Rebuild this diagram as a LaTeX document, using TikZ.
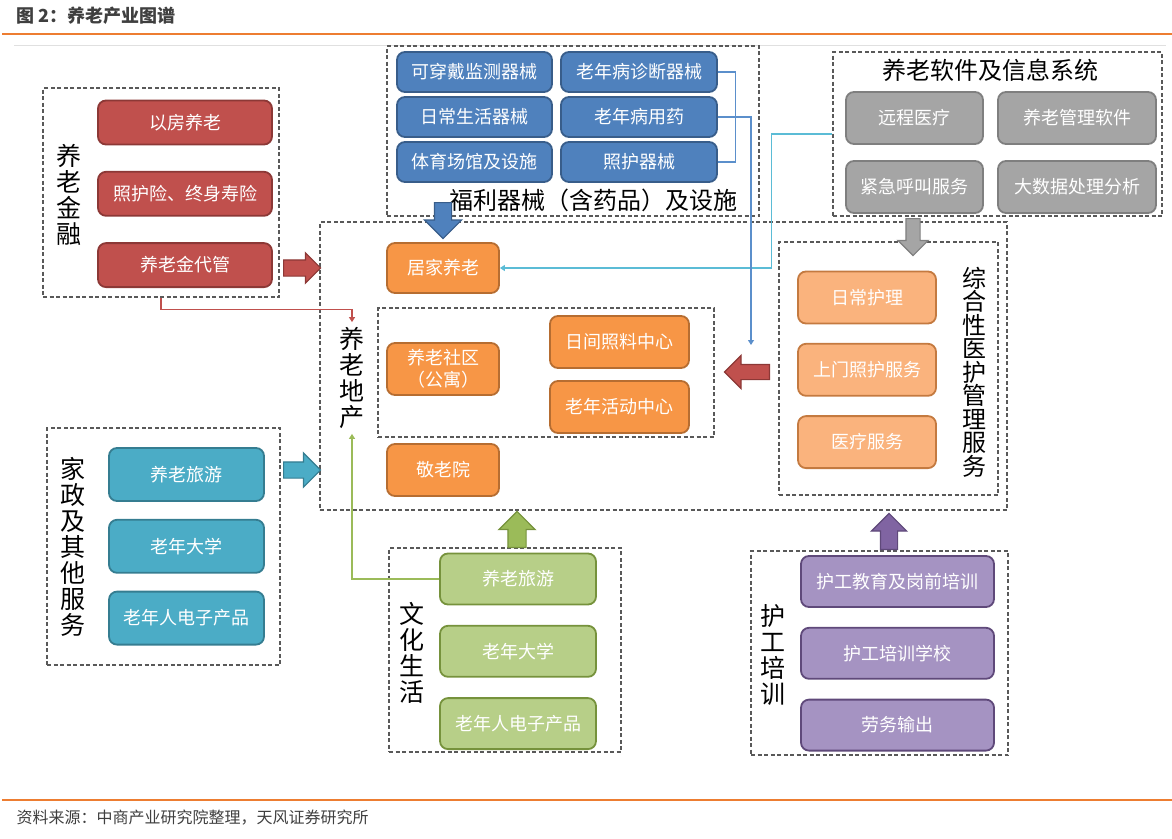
\documentclass[tikz,border=0pt]{standalone}
\usepackage{fontspec}
\setmainfont{Noto Sans CJK SC}
\usetikzlibrary{positioning,shapes.arrows,arrows.meta}

\definecolor{headorange}{HTML}{ED7D31}
\definecolor{titlegray}{HTML}{3F3F3F}
\definecolor{framegray}{HTML}{595959}
\definecolor{hongfill}{HTML}{C0504D}
\definecolor{hongline}{HTML}{8C3836}
\definecolor{lanfill}{HTML}{4F81BD}
\definecolor{lanline}{HTML}{385D8A}
\definecolor{chengfill}{HTML}{F79646}
\definecolor{chengline}{HTML}{B66D31}
\definecolor{qianchengfill}{HTML}{FAB37D}
\definecolor{qianchengline}{HTML}{C47A40}
\definecolor{huifill}{HTML}{A5A5A5}
\definecolor{huiline}{HTML}{7F7F7F}
\definecolor{qingfill}{HTML}{4BACC6}
\definecolor{qingline}{HTML}{357D91}
\definecolor{lvfill}{HTML}{B7CF88}
\definecolor{lvline}{HTML}{76923C}
\definecolor{lvarrow}{HTML}{9BBB59}
\definecolor{zifill}{HTML}{A593C2}
\definecolor{ziline}{HTML}{5F497A}
\definecolor{ziarrow}{HTML}{8064A2}
\definecolor{tianlan}{HTML}{5BBCD6}
\definecolor{xianlan}{HTML}{5B8FCB}

\tikzset{
  box/.style={rounded corners=8pt, line width=1.8pt, text=white, inner sep=0pt,
    font=\fontsize{18}{22}\selectfont, align=center},
  hongbox/.style={box, fill=hongfill, draw=hongline, minimum width=174pt, minimum height=44pt},
  lanbox/.style={box, fill=lanfill, draw=lanline, minimum width=155pt, minimum height=40pt},
  chengbox/.style={box, fill=chengfill, draw=chengline, minimum width=112pt, minimum height=51pt},
  qianbox/.style={box, fill=qianchengfill, draw=qianchengline, minimum width=138pt, minimum height=52pt},
  huibox/.style={box, fill=huifill, draw=huiline, minimum width=137pt, minimum height=52pt},
  qingbox/.style={box, fill=qingfill, draw=qingline, minimum width=155pt, minimum height=53pt},
  lvbox/.style={box, fill=lvfill, draw=lvline, minimum width=156pt, minimum height=51pt},
  zibox/.style={box, fill=zifill, draw=ziline, minimum width=193pt, minimum height=51pt},
  grpframe/.style={draw=framegray, line width=1.2pt, dash pattern=on 4pt off 2.5pt, inner sep=0pt},
  vlabel/.style={font=\fontsize{25}{26}\selectfont, align=center, inner xsep=0pt, inner ysep=5pt},
  biglabel/.style={font=\fontsize{24}{26}\selectfont, inner sep=0pt},
  fatarrow/.style={single arrow, anchor=tail, line width=1.2pt, inner xsep=0pt, inner ysep=7.5pt,
    single arrow head extend=8pt, minimum height=37pt},
  thinline/.style={line width=1.1pt, -{Triangle[length=5pt,width=6pt]}},
}

\begin{document}
\begin{tikzpicture}[x=1pt,y=-1pt]
\useasboundingbox (0,0) rectangle (1172,838);

% header and footer
\node[anchor=west, text=titlegray, font=\bfseries\fontsize{18}{20}\selectfont] (title) at (13,16) {图 2：养老产业图谱};
\draw[headorange, line width=2pt] (2,34) -- (1172,34);
\draw[black!12, line width=1pt] (14,45) -- (1166,45);
\draw[headorange, line width=2pt] (2,800) -- (1172,800);
\node[anchor=west, text=titlegray, font=\fontsize{16}{18}\selectfont] (source) at (13,818) {资料来源：中商产业研究院整理，天风证券研究所};

% group frames
\node[grpframe, minimum width=236pt, minimum height=209pt] (jinrong) at (161,192.5) {};
\node[grpframe, minimum width=372pt, minimum height=170pt] (qixie) at (573,131) {};
\node[grpframe, minimum width=329pt, minimum height=164pt] (ruanjian) at (997.5,134) {};
\node[grpframe, minimum width=687pt, minimum height=288pt] (dichan) at (663.5,366) {};
\node[grpframe, minimum width=336pt, minimum height=129pt] (shequ) at (546,372.5) {};
\node[grpframe, minimum width=219pt, minimum height=253pt] (yihu) at (888.5,368.5) {};
\node[grpframe, minimum width=233pt, minimum height=237pt] (jiazheng) at (163.5,546.5) {};
\node[grpframe, minimum width=232pt, minimum height=204pt] (wenhua) at (505,650) {};
\node[grpframe, minimum width=257pt, minimum height=204pt] (hugong) at (879.5,653) {};

% group labels
\node[vlabel] (jrlabel) at (69,195) {养\\老\\金\\融};
\node[biglabel] (qxlabel) at (593,200) {福利器械（含药品）及设施};
\node[biglabel] (rjlabel) at (990,70) {养老软件及信息系统};
\node[vlabel] (dclabel) at (352,378) {养\\老\\地\\产};
\node[vlabel, font=\fontsize{24}{23.5}\selectfont] (yhlabel) at (974,372) {综\\合\\性\\医\\护\\管\\理\\服\\务};
\node[vlabel] (jzlabel) at (73,547) {家\\政\\及\\其\\他\\服\\务};
\node[vlabel] (whlabel) at (412,653) {文\\化\\生\\活};
\node[vlabel] (hglabel) at (773,655) {护\\工\\培\\训};

% 养老金融
\node[hongbox] (j1) at (185,122.5) {以房养老};
\node[hongbox] (j2) [below=25.5pt of j1] {照护险、终身寿险};
\node[hongbox] (j3) [below=25.5pt of j2] {养老金代管};

% 福利器械
\node[lanbox] (q1) at (474.5,72) {可穿戴监测器械};
\node[lanbox] (q2) [below=3.2pt of q1] {日常生活器械};
\node[lanbox] (q3) [below=3.2pt of q2] {体育场馆及设施};
\node[lanbox, minimum width=156pt] (q4) at (639,72) {老年病诊断器械};
\node[lanbox, minimum width=156pt] (q5) [below=3.2pt of q4] {老年病用药};
\node[lanbox, minimum width=156pt] (q6) [below=3.2pt of q5] {照护器械};

% 养老软件
\node[huibox] (s1) at (914.5,118) {远程医疗};
\node[huibox, minimum width=158pt] (s2) [right=13.2pt of s1] {养老管理软件};
\node[huibox] (s3) [below=15.2pt of s1] {紧急呼叫服务};
\node[huibox, minimum width=158pt] (s4) [right=13.2pt of s3] {大数据处理分析};

% 养老地产
\node[chengbox, minimum height=50pt] (jujia) at (443,268) {居家养老};
\node[chengbox, minimum height=52pt] (sheq) at (443,369) {养老社区\\（公寓）};
\node[chengbox, minimum width=139pt, minimum height=52pt] (rijian) at (619.5,342) {日间照料中心};
\node[chengbox, minimum width=139pt, minimum height=52pt] (huodong) [below=11.2pt of rijian] {老年活动中心};
\node[chengbox, minimum height=52pt] (jinglao) at (443,470) {敬老院};

% 综合性医护管理服务
\node[qianbox] (y1) at (867,297.5) {日常护理};
\node[qianbox] (y2) [below=18.5pt of y1] {上门照护服务};
\node[qianbox] (y3) [below=18.5pt of y2] {医疗服务};

% 家政及其他服务
\node[qingbox] (k1) at (186.5,474.5) {养老旅游};
\node[qingbox] (k2) [below=17pt of k1] {老年大学};
\node[qingbox] (k3) [below=17pt of k2] {老年人电子产品};

% 文化生活
\node[lvbox] (w1) at (518,579) {养老旅游};
\node[lvbox] (w2) [below=19.5pt of w1] {老年大学};
\node[lvbox] (w3) [below=19.5pt of w2] {老年人电子产品};

% 护工培训
\node[zibox] (h1) at (897.5,581.5) {护工教育及岗前培训};
\node[zibox] (h2) [below=19pt of h1] {护工培训学校};
\node[zibox] (h3) [below=19pt of h2] {劳务输出};

% block arrows between groups
\node[fatarrow, fill=hongfill, draw=hongline, single arrow head extend=7pt] (jr2dc) at (283,268) {};
\node[fatarrow, fill=qingfill, draw=qingline, single arrow head extend=9pt] (jz2dc) at (283,470) {};
\node[fatarrow, fill=lanfill, draw=lanline, rotate=-90, single arrow head extend=10pt, inner ysep=8pt, minimum height=36pt] (qx2dc) at (443,202) {};
\node[fatarrow, fill=huifill, draw=huiline, rotate=-90, single arrow head extend=8pt, inner ysep=6.5pt] (rj2yh) at (913,218) {};
\node[fatarrow, fill=hongfill, draw=hongline, rotate=180, single arrow head extend=9pt, inner ysep=7pt, minimum height=45pt] (yh2dc) at (770,372) {};
\node[fatarrow, fill=lvarrow, draw=lvline, rotate=90, single arrow head extend=9pt, inner ysep=8.5pt, minimum height=36pt] (wh2dc) at (517,548) {};
\node[fatarrow, fill=ziarrow, draw=ziline, rotate=90, single arrow head extend=9pt, inner ysep=8pt, minimum height=36pt] (hg2yh) at (889,550) {};

% thin connectors
\coordinate (lanend) at (751,345);
\draw[hongfill, thinline] (jinrong.south) -- ++(0,12) -| (dclabel.north);
\draw[lvarrow, thinline] (w1.west) -| (dclabel.south);
\draw[tianlan, thinline] (ruanjian.west) -- ++(-61,0) |- (jujia.east);
\draw[xianlan, line width=1.1pt] (q4.east) -- ++(18,0) |- (q6.east);
\draw[xianlan, thinline] (q5.east) -| (lanend);
\end{tikzpicture}
\end{document}
